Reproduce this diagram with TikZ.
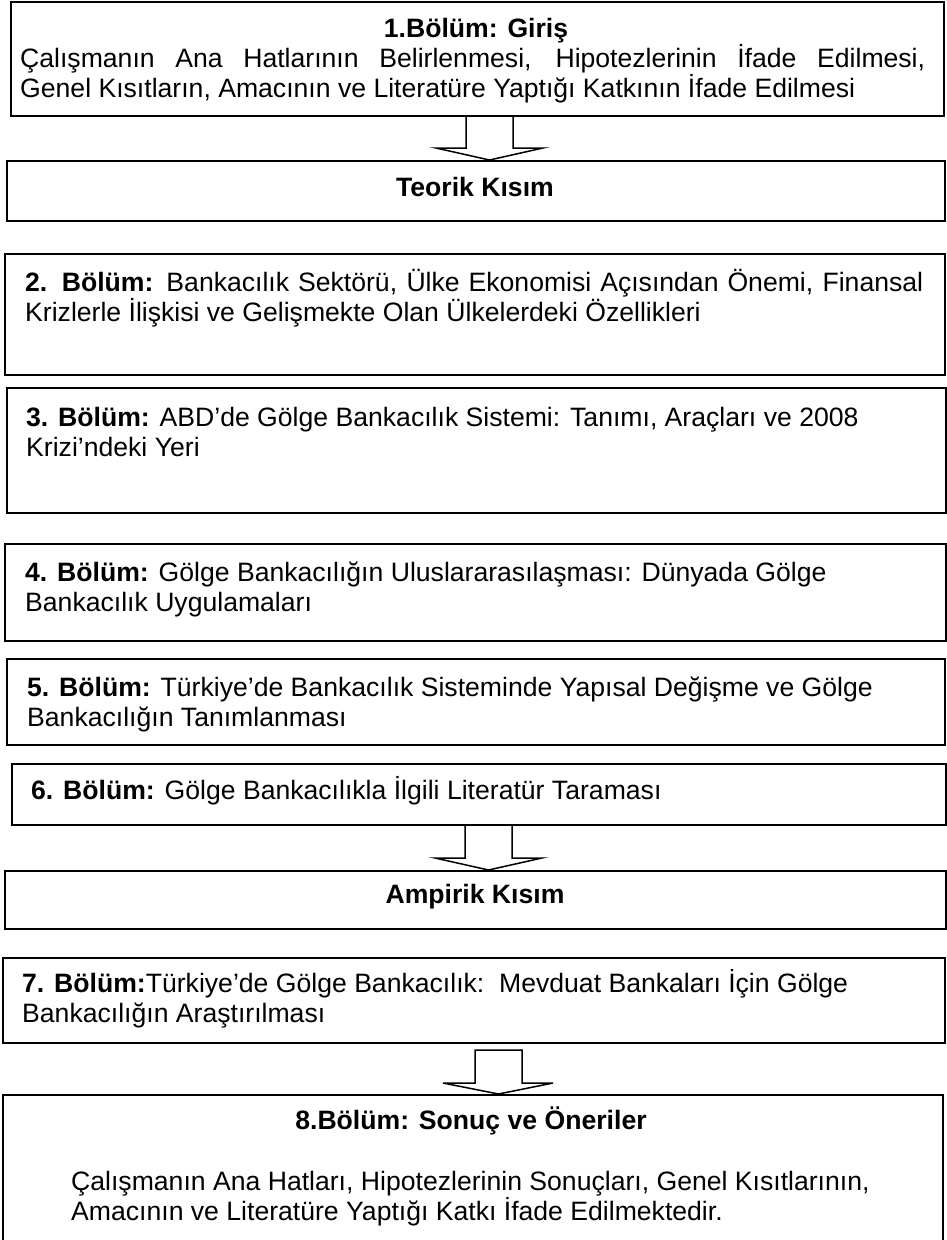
\documentclass[tikz,border=0pt]{standalone}
\usepackage{fontspec}
\setmainfont{Liberation Sans}
\usetikzlibrary{calc}

% block arrow between two stacked boxes: #1 upper node, #2 lower node, #3 axis x (pt)
\newcommand{\blockarrow}[3]{%
  \draw[blockarr] let \p1=(#1.south), \p2=(#2.north) in
    (#3pt-23.5pt,\y1) -- (#3pt-23.5pt,\y2+12pt) -- (#3pt-53.5pt,\y2+12pt) -- (#3pt,\y2)
    -- (#3pt+53.5pt,\y2+12pt) -- (#3pt+23.5pt,\y2+12pt) -- (#3pt+23.5pt,\y1);}

\begin{document}
\begin{tikzpicture}[x=1pt,y=-1pt,
  box/.style={draw=black, line width=2pt, anchor=north west, inner sep=0pt, fill=white},
  blockarr/.style={draw=black, line width=1.5pt, fill=white, line join=miter},
  txt/.style={anchor=base west, inner sep=0pt, font=\fontsize{26.6}{30}\selectfont},
  ctxt/.style={anchor=base, inner sep=0pt, font=\fontsize{26.6}{30}\selectfont\bfseries}]

\useasboundingbox (0,0) rectangle (947,1240);

% chapter boxes
\node[box, minimum width=933pt, minimum height=114pt] (b1)  at (10,1)    {};
\node[box, minimum width=938pt, minimum height=60pt]  (teo) at (6,160)   {};
\node[box, minimum width=940pt, minimum height=121pt] (b2)  at (4,253)   {};
\node[box, minimum width=939pt, minimum height=125pt] (b3)  at (6,387)   {};
\node[box, minimum width=941pt, minimum height=97pt]  (b4)  at (4,543)   {};
\node[box, minimum width=938pt, minimum height=86pt]  (b5)  at (6,658)   {};
\node[box, minimum width=934pt, minimum height=61pt]  (b6)  at (11,763)  {};
\node[box, minimum width=941pt, minimum height=58pt]  (amp) at (4,870)   {};
\node[box, minimum width=942pt, minimum height=85pt]  (b7)  at (2,957)   {};
\node[box, minimum width=940pt, minimum height=152pt] (b8)  at (2,1094)  {};

% box texts
\node[ctxt] (t1h) at (476,37) {1.Bölüm: Giriş};
\node[txt] (t1a) at (20,67) {\makebox[905pt][s]{Çalışmanın Ana Hatlarının Belirlenmesi, Hipotezlerinin İfade Edilmesi,}};
\node[txt] (t1b) at (20,97) {Genel Kısıtların, Amacının ve Literatüre Yaptığı Katkının İfade Edilmesi};

\node[ctxt] (teoh) at (475,196) {Teorik Kısım};

\node[txt] (t2a) at (25,291) {\makebox[898pt][s]{\textbf{2. Bölüm:} Bankacılık Sektörü, Ülke Ekonomisi Açısından Önemi, Finansal}};
\node[txt] (t2b) at (25,321) {Krizlerle İlişkisi ve Gelişmekte Olan Ülkelerdeki Özellikleri};

\node[txt] (t3a) at (26,426) {\textbf{3. Bölüm:} ABD’de Gölge Bankacılık Sistemi: Tanımı, Araçları ve 2008};
\node[txt] (t3b) at (26,456) {Krizi’ndeki Yeri};

\node[txt] (t4a) at (25,581) {\textbf{4. Bölüm:} Gölge Bankacılığın Uluslararasılaşması: Dünyada Gölge};
\node[txt] (t4b) at (25,611) {Bankacılık Uygulamaları};

\node[txt] (t5a) at (27,696) {\textbf{5. Bölüm:} Türkiye’de Bankacılık Sisteminde Yapısal Değişme ve Gölge};
\node[txt] (t5b) at (27,726) {Bankacılığın Tanımlanması};

\node[txt] (t6a) at (31,799) {\textbf{6. Bölüm:} Gölge Bankacılıkla İlgili Literatür Taraması};

\node[ctxt] (amph) at (475,903) {Ampirik Kısım};

\node[txt] (t7a) at (22,992) {\textbf{7. Bölüm:}Türkiye’de Gölge Bankacılık:\ \ Mevduat Bankaları İçin Gölge};
\node[txt] (t7b) at (22,1022) {Bankacılığın Araştırılması};

\node[ctxt] (t8h) at (471,1129) {8.Bölüm: Sonuç ve Öneriler};
\node[txt] (t8a) at (71,1190) {Çalışmanın Ana Hatları, Hipotezlerinin Sonuçları, Genel Kısıtlarının,};
\node[txt] (t8b) at (71,1220) {Amacının ve Literatüre Yaptığı Katkı İfade Edilmektedir.};

% block arrows
\blockarrow{b1}{teo}{489.5}
\blockarrow{b6}{amp}{488.5}
\draw[blockarr] let \p1=(b7.south), \p2=(b8.north) in
  (475pt,\y1-6pt) -- (475pt,\y2+11pt) -- (443pt,\y2+11pt) -- (498.5pt,\y2)
  -- (553pt,\y2+11pt) -- (522pt,\y2+11pt) -- (522pt,\y1-6pt) -- cycle;

\end{tikzpicture}
\end{document}
